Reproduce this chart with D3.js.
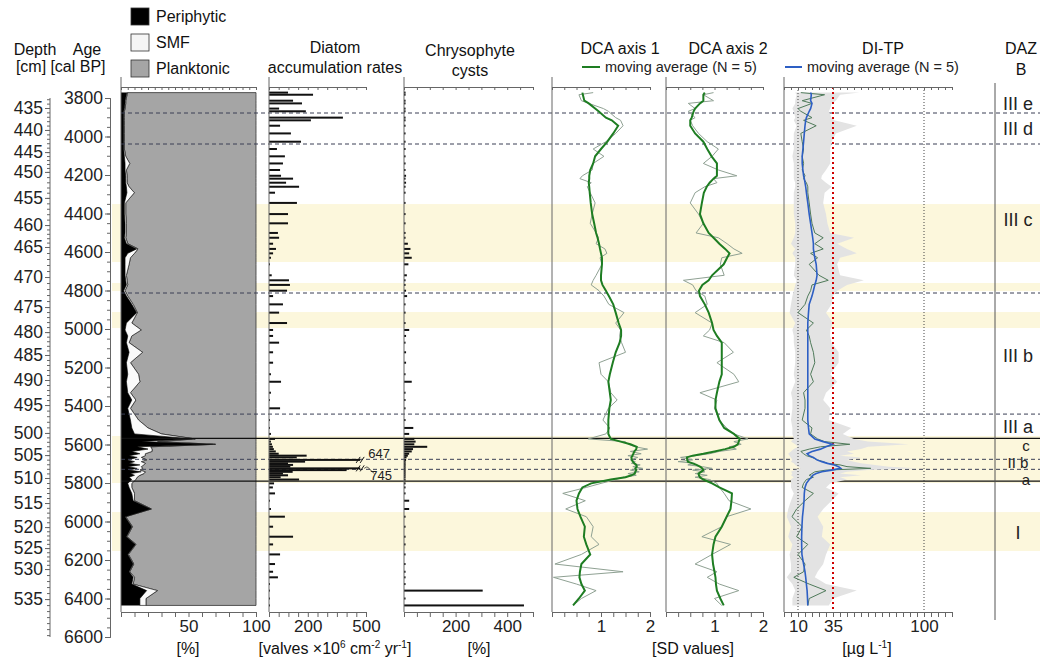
<!DOCTYPE html>
<html>
<head>
<meta charset="utf-8">
<script src="https://cdn.jsdelivr.net/npm/d3@7"></script>
<style>
  body { margin: 0; background: #fff; }
  svg { font-family: "Liberation Sans", Arial, sans-serif; }
</style>
</head>
<body>
<svg id="chart" width="1040" height="661"></svg>
<script>
// Sample ages (cal BP)
const sampleAge = [3772,3783,3814,3828,3855,3869,3902,3916,3944,3984,4027,4065,4103,4140,4174,4204,4219,4240,4261,4292,
  4345,4403,4451,4501,4526,4557,4584,4607,4630,4664,4721,4747,4771,4801,4829,4872,4915,4969,5005,5036,
  5071,5121,5175,5235,5274,5331,5369,5412,5473,5514,
  5545,5571,5585,5599,5612,5624,5636,5648,5658,5667,5680,5689,5698,5706,5715,5724,5733,5742,5751,5760,5770,5782,
  5802,5823,5854,5892,5935,5975,6027,6079,6119,6171,6221,6261,6290,6325,6359,6400,6436];

// Diatom groups [%]
const periphytic = [4.4,4,3,3,2.5,2,2,2,2,2,2,2,2.5,3,3,3.5,3.5,3.5,4,4.4,
  2.5,2.5,3,3,2.5,4,11.6,5,3,3,3,3.5,4,2,4,8,11.6,4,3,5,
  4,6,4,5,4,5,8,5,7,8,
  10,53,15,68,12,20,8,14,6,12,5,10,6,14,5,12,6,15,7,10,6,8,
  5,6,8,9,22,3,8,4,10.6,5,9,6,9,8,19,14,14];
const smf = [0.5,0.5,0.5,0.5,0.5,0.5,0.5,0.5,0.5,0.5,0.5,0.5,1,3.5,1,1,1,1,2,5.5,
  1,1,1,1,1,1,1,5,4,3,1,1,1,1,1,1,0.5,4,12,3,
  2,10,3,8,10,2,3,2,6,12,
  20,2,12,2,10,3,15,4,12,3,14,5,12,3,10,4,8,3,10,4,6,3,
  3,2,2,1,0.5,0.5,0.5,0.5,0.5,0.5,0.5,0.5,1,1,8,4.5,4.5];

// Diatom accumulation rates [valves x10^6 cm-2 yr-1]
const accRate = [98,227,124,170,52,190,381,216,57,113,165,41,82,72,57,62,124,88,155,31,
  144,98,98,46,52,21,36,21,10,5,14,103,108,93,21,72,52,93,21,21,
  52,21,21,10,62,10,5,57,5,5,
  10,31,10,15,20,25,35,50,194,143,647,186,98,124,110,745,400,122,72,98,60,155,
  26,20,31,5,10,82,21,124,21,57,31,21,46,5,5,5,5];

// Chrysophyte cysts [%]
const chrysoCysts = [6,6,6,6,6,6,6,6,6,6,6,6,6,6,6,8,6,8,6,6,
  6,6,6,6,6,15,25,20,30,17,11,6,6,8,12,6,6,6,20,8,
  6,8,8,6,30,6,6,6,6,36,
  20,40,45,40,90,35,30,20,15,10,8,6,6,6,6,6,6,6,6,6,6,6,
  6,6,6,20,20,6,6,6,6,6,6,6,6,6,305,6,465];

// DCA axis scores [SD]
const dca1 = [0.84,0.55,0.6,0.75,1.05,1.15,1.3,1.4,1.45,1.3,1.1,0.84,1.06,0.84,0.82,0.62,0.57,0.8,0.72,0.78,
  0.88,0.82,0.78,0.9,0.95,0.9,1.08,1.12,0.98,1.02,0.9,0.84,0.8,0.96,1.06,1.16,1.47,1.3,1.4,1.38,
  1.42,1.5,0.96,1.0,1.15,1.2,1.33,1.15,1.04,1.18,
  1.1,0.74,1.5,1.55,1.7,1.95,1.6,1.82,1.55,1.75,1.6,1.7,1.62,1.8,1.65,1.85,1.6,1.78,1.55,1.72,1.45,1.3,
  1.0,0.7,0.22,0.68,0.28,0.7,0.84,0.8,0.96,0.6,0.06,1.45,0.03,0.5,0.9,0.6,0.43];
const dca1Avg = [0.62,0.63,0.66,0.75,0.88,0.95,1.1,1.22,1.35,1.25,1.13,1.0,0.88,0.84,0.78,0.76,0.76,0.75,0.76,0.77,
  0.79,0.82,0.86,0.9,0.93,0.96,0.98,1.0,1.02,1.02,1.0,1.0,1.03,1.1,1.16,1.25,1.3,1.36,1.41,1.41,
  1.38,1.3,1.24,1.18,1.15,1.18,1.2,1.17,1.15,1.15,
  1.15,1.2,1.4,1.6,1.73,1.72,1.68,1.66,1.64,1.62,1.63,1.65,1.68,1.72,1.73,1.7,1.72,1.7,1.69,1.62,1.5,1.2,
  0.8,0.62,0.55,0.5,0.52,0.58,0.67,0.65,0.7,0.78,0.6,0.57,0.56,0.6,0.67,0.55,0.43];
const dca2 = [0.98,0.77,0.98,0.46,0.6,0.46,0.6,0.5,0.55,0.67,0.85,1.08,0.95,0.77,1.08,1.46,0.98,1.05,0.8,0.6,
  0.5,0.67,0.77,0.62,1.08,1.26,1.4,1.57,1.15,1.12,1.2,0.36,0.55,0.62,0.8,0.85,0.6,0.95,0.9,0.77,
  1.2,1.39,1.05,1.4,1.5,0.7,1.05,1.0,1.1,1.25,
  1.4,1.69,1.4,1.55,1.3,1.45,1.1,0.9,0.6,0.3,0.55,0.25,0.6,0.45,0.75,0.95,0.55,0.8,0.6,0.85,0.6,0.9,
  1.05,1.1,1.2,1.3,1.75,1.25,1.15,0.74,1.33,0.95,0.6,1.05,0.85,1.1,1.5,1.0,1.15];
const dca2Avg = [0.8,0.77,0.77,0.7,0.6,0.57,0.53,0.5,0.5,0.6,0.77,0.85,0.94,1.05,1.05,1.05,0.98,0.9,0.84,0.78,
  0.74,0.7,0.77,0.88,0.98,1.1,1.22,1.31,1.26,1.19,0.95,0.88,0.75,0.68,0.7,0.8,0.88,0.95,0.98,1.05,
  1.15,1.15,1.15,1.15,1.1,1.05,1.02,1.02,1.1,1.2,
  1.4,1.52,1.5,1.48,1.4,1.22,1.0,0.77,0.55,0.43,0.44,0.45,0.55,0.63,0.7,0.75,0.77,0.72,0.67,0.68,0.7,0.77,
  0.95,1.1,1.36,1.35,1.33,1.25,1.15,1.02,0.98,0.95,0.97,1.0,1.02,1.03,1.05,1.12,1.19];

// Diatom-inferred TP [ug L-1]
const ditp = [12,29,13,20,10,12,20,14,23,12,13,14,13,14,13,15,14,16,17,17,
  18,19,20,22,28,22,28,19,24,18,25,31.6,20,19,17,15,10,21,16,18,
  19,21,22,19,21,14,15,15,13,20,
  19,24,29,47,26,18,12,14,16,20,24,28,31,40,45,62,30,22,20,18,21,16,
  14,13,21,15,9,5.7,13,9,17,10,15,14,7,18,30,18,17];
const ditpAvg = [19,19.5,19,20,19,18,16,15.5,15,14.5,14,13.5,13,13,13.5,14,14.5,15,15.5,16,
  17,18,19,20,20.5,21,21,21.5,22,23,23.6,23,22,21,20,18,17.5,17,17,17,
  17,17,17,17,17,17,17,17,17,17.5,
  18,22,28,34.7,30,26,20,16.5,18,21,23.5,27,31,36,39,40.5,34,27,23,20.5,19.7,18,
  16,15,14.5,14.3,13.8,13.2,12.8,12.6,12.6,12.8,14,15,15.5,16,16.5,16.8,17];
const ditpLow = [8,9,8,8,6,7,8,7,9,7,7,7,6,7,7,7,7,8,8,7,
  7,7,8,8,7,5,8,6,8,8,7,9,8,7,6,5,4,8,6,7,
  7,8,8,7,8,5,6,6,5,6,
  6,7,5,8,10,7,5,3,4,5,6,5,7,8,10,12,8,5,6,5,7,5,
  5,5,7,5,3,2,5,3,6,4,5,5,2,6,8,6,6];
const ditpHigh = [54,40,37,34,33,32,34,36,52,37,34,33,33,33,30,27,26.6,30,34,29,
  28,30,31,33,50,38,45,52,40,38,40,57,45,38,35,34,30,35,33,33,
  34,39,39,33,38,30,28,33,32,48,
  42,50,60,89,60,55,45,50,40,55,45,50,55,65,75,95,60,45,40,55,40,45,
  33,30,39,34,28,24,28,27,33,30,28,24,22,30,52,35,32];

// Age-depth model
const modelDepth = [435,440,445,450,455,460,465,470,475,480,485,490,495,500,505,510,515,520,525,530,535];
const modelAge = [3852,3966,4081,4184,4319,4460,4574,4730,4886,5016,5135,5265,5395,5540,5655,5774,5904,6029,6138,6247,6403];

// Zone boundaries, highlighted intervals and zone names
const zoneLines = [
  { age: 3878, solid: false }, { age: 4039, solid: false }, { age: 4813, solid: false },
  { age: 5442, solid: false }, { age: 5568, solid: true }, { age: 5677, solid: false },
  { age: 5729, solid: false }, { age: 5790, solid: true }
];
const bands = [[4351, 4652], [4761, 4803], [4912, 4995], [5556, 5800], [5951, 6153]];
const dazLabels = [
  { name: 'III e', age: 3830 }, { name: 'III d', age: 3960 }, { name: 'III c', age: 4430 },
  { name: 'III b', age: 5140 }, { name: 'III a', age: 5505 }, { name: 'c', age: 5608, dx: 8, small: true },
  { name: 'II b', age: 5696, small: true }, { name: 'a', age: 5784, dx: 8, small: true }, { name: 'I', age: 6055 }
];

const svg = d3.select('#chart');
const y = d3.scaleLinear().domain([3800, 6600]).range([98, 637]);
const yTop = 87, yBottom = 612;

const xPct = d3.scaleLinear().domain([0, 100]).range([121, 256]);
const xAcc = d3.scaleLinear().domain([0, 500]).range([269, 366]);
const xCys = d3.scaleLinear().domain([0, 500]).range([404, 533]);
const xD1 = d3.scaleLinear().domain([0, 2]).range([552, 650]);
const xD2 = d3.scaleLinear().domain([0, 2]).range([666, 763]);
const xTP = d3.scaleLinear().domain([0, 120]).range([784, 952]);

// Highlight bands
svg.append('g').selectAll('rect')
  .data(bands)
  .enter()
  .append('rect')
  .attr('x', 112)
  .attr('width', 1040 - 112)
  .attr('y', d => y(d[0]))
  .attr('height', d => y(d[1]) - y(d[0]))
  .attr('fill', '#fcf7dc');

// Panel 1: stacked diatom groups
const ay = (d, i) => y(sampleAge[i]);
const g1 = svg.append('g');
g1.append('path')
  .datum(sampleAge)
  .attr('d', d3.area().y(ay).x0((d, i) => xPct(periphytic[i] + smf[i])).x1(xPct(100)))
  .attr('fill', '#a5a5a5')
  .attr('stroke', '#333')
  .attr('stroke-width', 0.8);
g1.append('path')
  .datum(sampleAge)
  .attr('d', d3.area().y(ay).x0((d, i) => xPct(periphytic[i])).x1((d, i) => xPct(periphytic[i] + smf[i])))
  .attr('fill', '#fafafa')
  .attr('stroke', '#222')
  .attr('stroke-width', 0.7);
g1.append('path')
  .datum(sampleAge)
  .attr('d', d3.area().y(ay).x0(xPct(0)).x1((d, i) => xPct(periphytic[i])))
  .attr('fill', '#000');

// Zone boundary lines
svg.append('g').selectAll('line')
  .data(zoneLines)
  .enter()
  .append('line')
  .attr('x1', 121)
  .attr('x2', 1040)
  .attr('y1', d => y(d.age))
  .attr('y2', d => y(d.age))
  .attr('stroke', d => d.solid ? '#111' : '#3a3f55')
  .attr('stroke-width', d => d.solid ? 1.3 : 1)
  .attr('stroke-dasharray', d => d.solid ? null : '4,3');

// Panel 2: accumulation rates
const barCap = 470;
const g2 = svg.append('g');
g2.selectAll('rect')
  .data(accRate)
  .enter()
  .append('rect')
  .attr('x', xAcc(0))
  .attr('y', (d, i) => y(sampleAge[i]) - 1)
  .attr('width', d => xAcc(Math.min(d, barCap)) - xAcc(0))
  .attr('height', 2)
  .attr('fill', '#111');
const broken = accRate.map((v, i) => ({ v, age: sampleAge[i] })).filter(d => d.v > 500);
broken.forEach((d, k) => {
  const by = y(d.age);
  const bx = xAcc(barCap);
  [-2, 2].forEach(o => {
    g2.append('line')
      .attr('x1', bx + o - 2).attr('x2', bx + o + 2)
      .attr('y1', by + 3).attr('y2', by - 3)
      .attr('stroke', '#111').attr('stroke-width', 1);
  });
  if (k === 0) {
    g2.append('text').attr('x', bx + 8).attr('y', by - 2).attr('font-size', 13).attr('fill', '#222').text(d.v);
  } else {
    g2.append('path')
      .attr('d', `M${bx + 4},${by} q3,-3 5,0 t5,5`)
      .attr('fill', 'none').attr('stroke', '#333').attr('stroke-width', 0.8);
    g2.append('text').attr('x', bx + 10).attr('y', by + 12).attr('font-size', 13).attr('fill', '#222').text(d.v);
  }
});

// Panel 3: chrysophyte cysts
svg.append('g').selectAll('rect')
  .data(chrysoCysts)
  .enter()
  .append('rect')
  .attr('x', xCys(0))
  .attr('y', (d, i) => y(sampleAge[i]) - 1)
  .attr('width', d => xCys(d) - xCys(0))
  .attr('height', 2)
  .attr('fill', '#111');

// Panels 4-5: DCA scores
function curve(x, values) {
  return d3.line().x(d => x(d)).y((d, i) => y(sampleAge[i]))(values);
}
[[xD1, dca1, dca1Avg], [xD2, dca2, dca2Avg]].forEach(([x, raw, avg]) => {
  svg.append('path').attr('d', curve(x, raw)).attr('fill', 'none').attr('stroke', '#8fa193').attr('stroke-width', 1);
  svg.append('path').attr('d', curve(x, avg)).attr('fill', 'none').attr('stroke', '#1e7d22').attr('stroke-width', 2);
});

// Panel 6: DI-TP
svg.append('path')
  .datum(sampleAge)
  .attr('d', d3.area().y(ay).x0((d, i) => xTP(ditpLow[i])).x1((d, i) => xTP(ditpHigh[i])))
  .attr('fill', '#e3e3e3');
[10, 100].forEach(v => {
  svg.append('line')
    .attr('x1', xTP(v)).attr('x2', xTP(v)).attr('y1', yTop).attr('y2', yBottom)
    .attr('stroke', '#444').attr('stroke-width', 1).attr('stroke-dasharray', '1,2');
});
svg.append('line')
  .attr('x1', xTP(35)).attr('x2', xTP(35)).attr('y1', yTop).attr('y2', yBottom)
  .attr('stroke', '#d00000').attr('stroke-width', 2).attr('stroke-dasharray', '2,3');
svg.append('path').attr('d', curve(xTP, ditp)).attr('fill', 'none').attr('stroke', '#4f7a5a').attr('stroke-width', 1);
svg.append('path').attr('d', curve(xTP, ditpAvg)).attr('fill', 'none').attr('stroke', '#2d5fc4').attr('stroke-width', 1.6);

// Panel axes
function styleAxis(g, size) {
  g.selectAll('path.domain').attr('stroke', '#666');
  g.selectAll('.tick line').attr('stroke', '#666');
  g.selectAll('.tick text').attr('font-size', size || 17).attr('fill', '#222')
    .attr('font-family', '"Liberation Sans", Arial, sans-serif');
}
const panels = [
  { x: xPct, top: d3.range(0, 101, 5), bottom: d3.range(0, 101, 10), labels: [50, 100] },
  { x: xAcc, top: d3.range(0, 501, 50), bottom: d3.range(0, 501, 50), labels: [200, 500] },
  { x: xCys, top: d3.range(0, 501, 50), bottom: d3.range(0, 501, 50), labels: [200, 400] },
  { x: xD1, top: d3.range(0, 2.01, 0.25), bottom: d3.range(0, 2.01, 0.25), labels: [1, 2] },
  { x: xD2, top: d3.range(0, 2.01, 0.25), bottom: d3.range(0, 2.01, 0.25), labels: [1, 2] },
  { x: xTP, top: d3.range(0, 121, 5), bottom: d3.range(0, 121, 5), labels: [10, 35, 100] }
];
panels.forEach(p => {
  const top = svg.append('g').attr('transform', `translate(0,${yTop})`)
    .call(d3.axisBottom(p.x).tickValues(p.top).tickSize(3).tickSizeOuter(3).tickFormat(''));
  styleAxis(top);
  const bottom = svg.append('g').attr('transform', `translate(0,${yBottom})`)
    .call(d3.axisBottom(p.x).tickValues(p.bottom).tickSize(5).tickSizeOuter(0)
      .tickFormat(d => p.labels.some(l => Math.abs(l - d) < 1e-6) ? d : ''));
  styleAxis(bottom);
  svg.append('line')
    .attr('x1', p.x.range()[0]).attr('x2', p.x.range()[0])
    .attr('y1', 77).attr('y2', yBottom)
    .attr('stroke', '#666').attr('stroke-width', 1);
});

// DAZ column
svg.append('line').attr('x1', 995).attr('x2', 995).attr('y1', 83).attr('y2', 620)
  .attr('stroke', '#555').attr('stroke-width', 1);
svg.append('g').selectAll('text')
  .data(dazLabels)
  .enter()
  .append('text')
  .attr('x', d => 1018 + (d.dx || 0))
  .attr('y', d => y(d.age))
  .attr('dy', '0.36em')
  .attr('text-anchor', 'middle')
  .attr('font-size', d => d.small ? 15 : 18)
  .attr('fill', '#222')
  .text(d => d.name);

// Age axis
const ageMajor = d3.range(3800, 6601, 200);
const ageMinor = d3.range(3800, 6601, 50);
const ageMinorG = svg.append('g').attr('transform', 'translate(110,0)')
  .call(d3.axisLeft(y).tickValues(ageMinor).tickSize(3).tickFormat(''));
styleAxis(ageMinorG);
const ageG = svg.append('g').attr('transform', 'translate(110,0)')
  .call(d3.axisLeft(y).tickValues(ageMajor).tickSize(5).tickPadding(2).tickFormat(d3.format('d')));
styleAxis(ageG, 17.5);

// Depth axis (through the age-depth model)
const depthY = d3.scaleLinear().domain(modelDepth).range(modelAge.map(a => y(a)));
const depthMinorG = svg.append('g').attr('transform', 'translate(50,0)')
  .call(d3.axisLeft(depthY).tickValues(d3.range(433, 542, 1)).tickSize(3).tickFormat(''));
depthMinorG.select('path.domain').remove();
styleAxis(depthMinorG);
const depthG = svg.append('g').attr('transform', 'translate(50,0)')
  .call(d3.axisLeft(depthY).tickValues(d3.range(435, 536, 5)).tickSize(5).tickPadding(2));
depthG.select('path.domain').remove();
styleAxis(depthG, 17.5);
svg.append('line').attr('x1', 50).attr('x2', 50).attr('y1', y(3800)).attr('y2', y(6600))
  .attr('stroke', '#666');

// Headers
const header = (x, yy, t, anchor) => svg.append('text')
  .attr('x', x).attr('y', yy).attr('text-anchor', anchor || 'middle')
  .attr('font-size', 16).attr('fill', '#111').text(t);
header(35, 55, 'Depth');
header(87, 55, 'Age');
header(31, 72, '[cm]');
header(78, 72, '[cal BP]');
header(335, 53, 'Diatom');
header(335, 73, 'accumulation rates');
header(470, 56, 'Chrysophyte');
header(470, 76, 'cysts');
header(620, 54, 'DCA axis 1');
header(728, 54, 'DCA axis 2');
header(883, 54, 'DI-TP');
header(1021, 54, 'DAZ');
header(1021, 75, 'B');

// Moving average legends
[[582, 600, 605, '#1e7d22'], [785, 802, 807, '#2d5fc4']].forEach(([a, b, t, c]) => {
  svg.append('line').attr('x1', a).attr('x2', b).attr('y1', 67).attr('y2', 67)
    .attr('stroke', c).attr('stroke-width', 2);
  svg.append('text').attr('x', t).attr('y', 72).attr('font-size', 14.5).attr('fill', '#222')
    .text('moving average (N = 5)');
});

// Group legend
const legendItems = [
  { name: 'Periphytic', fill: '#000' },
  { name: 'SMF', fill: '#f5f5f5' },
  { name: 'Planktonic', fill: '#a5a5a5' }
];
const legend = svg.append('g').selectAll('g')
  .data(legendItems)
  .enter()
  .append('g')
  .attr('transform', (d, i) => `translate(131,${8 + i * 26})`);
legend.append('rect')
  .attr('width', 18).attr('height', 17)
  .attr('fill', d => d.fill).attr('stroke', '#333').attr('stroke-width', 0.8);
legend.append('text')
  .attr('x', 25).attr('y', 14)
  .attr('font-size', 16).attr('fill', '#111')
  .text(d => d.name);

// Unit labels
const unit = (x, t) => svg.append('text').attr('x', x).attr('y', 654)
  .attr('text-anchor', 'middle').attr('font-size', 16).attr('fill', '#111');
unit(188).text('[%]');
const u2 = unit(335);
u2.append('tspan').text('[valves ×10');
u2.append('tspan').attr('font-size', 10).attr('dy', -6).text('6');
u2.append('tspan').attr('dy', 6).text(' cm');
u2.append('tspan').attr('font-size', 10).attr('dy', -6).text('-2');
u2.append('tspan').attr('dy', 6).text(' yr');
u2.append('tspan').attr('font-size', 10).attr('dy', -6).text('-1');
u2.append('tspan').attr('dy', 6).text(']');
unit(479).text('[%]');
unit(693).text('[SD values]');
const u6 = unit(867);
u6.append('tspan').text('[µg L');
u6.append('tspan').attr('font-size', 10).attr('dy', -6).text('-1');
u6.append('tspan').attr('dy', 6).text(']');
</script>
</body>
</html>
